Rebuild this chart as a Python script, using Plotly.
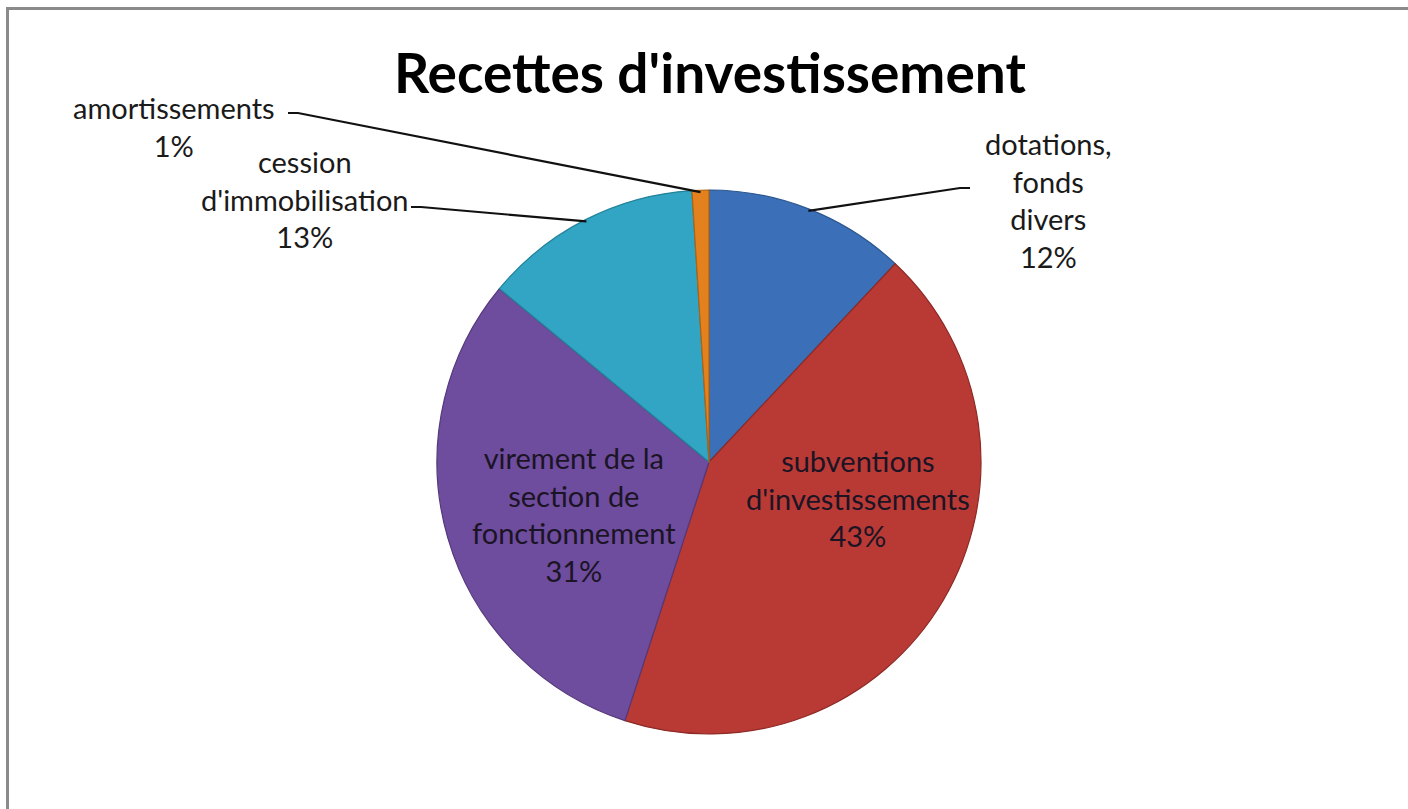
import math
import plotly.graph_objects as go

# Investment revenue breakdown
categories = [
    "dotations, fonds divers",
    "subventions d'investissements",
    "virement de la section de fonctionnement",
    "cession d'immobilisation",
    "amortissements",
]
label_lines = [
    ["dotations,", "fonds", "divers"],
    ["subventions", "d'investissements"],
    ["virement de la", "section de", "fonctionnement"],
    ["cession", "d'immobilisation"],
    ["amortissements"],
]
values = [12, 43, 31, 13, 1]
colors = ["#3B70B8", "#B93A35", "#6E4C9E", "#31A5C3", "#E4811F"]
edge_colors = ["#2C578F", "#8E2A26", "#54387A", "#23829A", "#B0620F"]

W, H = 1408, 809
CX, CY, R = 709, 462, 272          # pie centre and radius, in pixels
FONT = "Lato, 'Open Sans', sans-serif"
LABEL_SIZE = 29


def px(x):
    return x / W


def py(y):
    return 1 - y / H


total = sum(values)
pcts = [v / total for v in values]

fig = go.Figure(go.Pie(
    labels=categories,
    values=values,
    sort=False,
    direction="clockwise",
    rotation=0,
    textinfo="none",
    hoverinfo="label+percent",
    marker=dict(colors=colors, line=dict(color=edge_colors, width=1.2)),
    domain=dict(x=[px(CX - R), px(CX + R)], y=[py(CY + R), py(CY - R)]),
    showlegend=False,
))


def slice_mid_point(i, r=R):
    start = sum(pcts[:i])
    mid = (start + pcts[i] / 2) * 2 * math.pi
    return CX + r * math.sin(mid), CY - r * math.cos(mid)


def label_text(i):
    return "<br>".join(label_lines[i] + [f"{round(pcts[i] * 100)}%"])


annotations = []
shapes = []

# Labels placed inside the two largest slices
inside = {1: (858, 498), 2: (574, 514)}
for i, (x, y) in inside.items():
    annotations.append(dict(
        x=px(x), y=py(y), xref="paper", yref="paper",
        text=label_text(i), showarrow=False, align="center",
        font=dict(family=FONT, size=LABEL_SIZE, color="#1b1424"),
        xanchor="center", yanchor="middle",
    ))

# Labels outside with elbow leader lines: (text centre, elbow start, elbow end)
outside = {
    0: ((1048, 200), (970, 188), (960, 188)),
    3: ((305, 199), (411, 207), (421, 207)),
    4: ((174, 126), (288, 113), (298, 113)),
}
for i, ((tx, ty), (ex0, ey0), (ex1, ey1)) in outside.items():
    annotations.append(dict(
        x=px(tx), y=py(ty), xref="paper", yref="paper",
        text=label_text(i), showarrow=False, align="center",
        font=dict(family=FONT, size=LABEL_SIZE, color="#1a1a1a"),
        xanchor="center", yanchor="middle",
    ))
    tipx, tipy = slice_mid_point(i, R - 2)
    shapes.append(dict(
        type="path", xref="paper", yref="paper",
        path=(f"M {px(ex0)} {py(ey0)} L {px(ex1)} {py(ey1)} "
              f"L {px(tipx)} {py(tipy)}"),
        line=dict(color="#111111", width=2.2),
    ))

# Title
annotations.append(dict(
    x=px(710), y=py(72), xref="paper", yref="paper",
    text="<b>Recettes d'investissement</b>", showarrow=False,
    font=dict(family=FONT, size=55, color="#000000"),
    xanchor="center", yanchor="middle",
))

# Chart frame
shapes.append(dict(
    type="rect", xref="paper", yref="paper",
    x0=px(7.5), y0=py(830), x1=px(1425), y1=py(8.5),
    line=dict(color="#8a8a8a", width=3), layer="above",
))

fig.update_layout(
    width=W, height=H,
    margin=dict(l=0, r=0, t=0, b=0),
    paper_bgcolor="#ffffff",
    plot_bgcolor="#ffffff",
    annotations=annotations,
    shapes=shapes,
)

fig.write_html("out.html")
